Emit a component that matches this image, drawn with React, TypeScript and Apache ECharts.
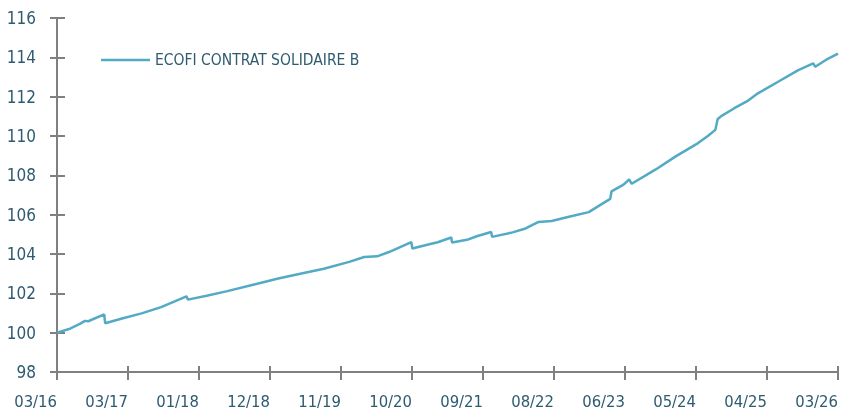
import React, { useEffect, useRef } from "react";
import * as echarts from "echarts";

const seriesName = "ECOFI CONTRAT SOLIDAIRE B";
const tickLabels = ["03/16", "03/17", "01/18", "12/18", "11/19", "10/20", "09/21", "08/22", "06/23", "05/24", "04/25", "03/26"];
const totalMonths = 120;

// months since March 2016
const months = [
  0, 2.0, 3.5, 4.3, 4.8, 7.25, 7.4, 10, 13, 16, 19.9, 20.1, 23, 26, 30.3, 34, 37.2, 41, 44.9, 47.2,
  49.2, 51, 54.45, 54.6, 57.2, 58.5, 60.58, 60.7, 63, 64.5, 66.71, 66.85, 70, 72, 74.0, 76.0, 78.5,
  81.7, 83.5, 85.0, 85.2, 87.05, 87.9, 88.3, 92, 95, 98.5, 100, 101.15, 101.5, 102, 104, 106.2, 107.7,
  110.8, 113.9, 116.2, 116.5, 118.5, 120,
];
const values = [
  100.0, 100.2, 100.45, 100.6, 100.58, 100.93, 100.48, 100.72, 100.98, 101.3, 101.85, 101.68, 101.88,
  102.1, 102.45, 102.75, 102.98, 103.25, 103.6, 103.85, 103.88, 104.1, 104.6, 104.28, 104.5, 104.6,
  104.84, 104.58, 104.72, 104.9, 105.12, 104.87, 105.1, 105.3, 105.63, 105.68, 105.88, 106.13, 106.5,
  106.8, 107.18, 107.53, 107.79, 107.57, 108.3, 108.95, 109.64, 110.0, 110.31, 110.85, 111.0, 111.4,
  111.8, 112.17, 112.76, 113.35, 113.69, 113.52, 113.94, 114.19,
];
const yMin = 98;
const yMax = 116;
const yStep = 2;

const FONT = "'DejaVu Sans Condensed', 'Liberation Sans Narrow', sans-serif";
const TEXT = "#2E5B70";
const AXIS = "#808080";
const LINE = "#52AAC5";

export default function App() {
  const ref = useRef<HTMLDivElement>(null);
  useEffect(() => {
    if (!ref.current) return;
    const chart = echarts.init(ref.current, null, { renderer: "svg" });
    const step = totalMonths / (tickLabels.length - 1);
    const tickValues = tickLabels.map((_, i) => i * step);
    const data = months.map((m, i) => [m, values[i]]);
    chart.setOption({
      animation: false,
      grid: { left: 57, right: 1, top: 18, bottom: 38 },
      legend: {
        show: true,
        left: 96,
        top: 47,
        icon: "rect",
        itemWidth: 49,
        itemHeight: 2.5,
        textStyle: { color: TEXT, fontFamily: FONT, fontSize: 15.5 },
        data: [seriesName],
      },
      xAxis: [
        {
          type: "value",
          min: 0,
          max: totalMonths,
          axisLine: { show: true, lineStyle: { color: AXIS, width: 2 } },
          axisTick: { show: true, customValues: tickValues, length: 8, lineStyle: { color: AXIS, width: 2 } },
          axisLabel: {
            show: true,
            customValues: tickValues,
            formatter: (v: number) => tickLabels[Math.round(v / step)] ?? "",
            align: "right",
            margin: 21,
            color: TEXT,
            fontFamily: FONT,
            fontSize: 16.5,
          },
          splitLine: { show: false },
        },
        {
          type: "value",
          min: 0,
          max: totalMonths,
          position: "bottom",
          axisLine: { show: false },
          axisTick: { show: true, inside: true, customValues: tickValues, length: 6, lineStyle: { color: AXIS, width: 2 } },
          axisLabel: { show: false },
          splitLine: { show: false },
        },
      ],
      yAxis: [
        {
          type: "value",
          min: yMin,
          max: yMax,
          interval: yStep,
          axisLine: { show: true, lineStyle: { color: AXIS, width: 2 } },
          axisTick: { show: true, length: 7, lineStyle: { color: AXIS, width: 2 } },
          axisLabel: { color: TEXT, fontFamily: FONT, fontSize: 17, margin: 21 },
          splitLine: { show: false },
        },
        {
          type: "value",
          min: yMin,
          max: yMax,
          interval: yStep,
          position: "left",
          axisLine: { show: false },
          axisTick: { show: true, inside: true, length: 8, lineStyle: { color: AXIS, width: 2 } },
          axisLabel: { show: false },
          splitLine: { show: false },
        },
      ],
      series: [
        {
          name: seriesName,
          type: "line",
          xAxisIndex: 0,
          yAxisIndex: 0,
          data,
          showSymbol: false,
          symbol: "none",
          lineStyle: { color: LINE, width: 2.5 },
          itemStyle: { color: LINE },
        },
      ],
    });
    return () => chart.dispose();
  }, []);
  return <div ref={ref} style={{ position: "fixed", left: 0, top: 0, width: 841, height: 410 }} />;
}
